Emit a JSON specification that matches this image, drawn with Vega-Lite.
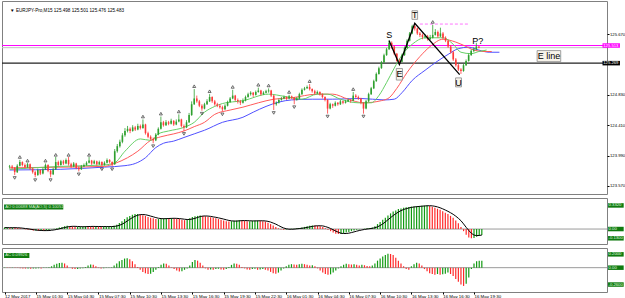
{
"$schema":"https://vega.github.io/schema/vega-lite/v6.json",
"background":"white",
"padding":{"left":0,"top":0,"right":0,"bottom":0},
"spacing":2,
"config":{"view":{"stroke":"#808080","strokeWidth":1},"font":"Liberation Sans","axis":{"labelFont":"Liberation Sans"}},
"datasets":{
"bars":[
{"i":0,"o":123.83,"h":123.86,"l":123.81,"c":123.84,"ao":0.020,"ma":0.020,"ac":0.004},
{"i":1,"o":123.84,"h":123.86,"l":123.80,"c":123.82,"ao":0.020,"ma":0.020,"ac":0.002},
{"i":2,"o":123.82,"h":123.83,"l":123.72,"c":123.76,"ao":0.015,"ma":0.019,"ac":-0.004},
{"i":3,"o":123.76,"h":123.87,"l":123.75,"c":123.85,"ao":0.020,"ma":0.019,"ac":0.003},
{"i":4,"o":123.85,"h":123.93,"l":123.84,"c":123.90,"ao":0.018,"ma":0.019,"ac":-0.003},
{"i":5,"o":123.90,"h":123.91,"l":123.84,"c":123.86,"ao":0.015,"ma":0.018,"ac":-0.006},
{"i":6,"o":123.86,"h":123.88,"l":123.81,"c":123.83,"ao":0.010,"ma":0.016,"ac":-0.008},
{"i":7,"o":123.83,"h":123.89,"l":123.82,"c":123.87,"ao":0.005,"ma":0.012,"ac":-0.010},
{"i":8,"o":123.87,"h":123.88,"l":123.79,"c":123.81,"ao":-0.005,"ma":0.007,"ac":-0.012},
{"i":9,"o":123.81,"h":123.82,"l":123.74,"c":123.76,"ao":-0.010,"ma":0.003,"ac":-0.010},
{"i":10,"o":123.76,"h":123.78,"l":123.69,"c":123.72,"ao":-0.015,"ma":-0.003,"ac":-0.014},
{"i":11,"o":123.72,"h":123.81,"l":123.71,"c":123.79,"ao":-0.020,"ma":-0.009,"ac":-0.012},
{"i":12,"o":123.79,"h":123.80,"l":123.72,"c":123.74,"ao":-0.020,"ma":-0.014,"ac":-0.010},
{"i":13,"o":123.74,"h":123.82,"l":123.73,"c":123.80,"ao":-0.025,"ma":-0.018,"ac":-0.008},
{"i":14,"o":123.80,"h":123.88,"l":123.79,"c":123.86,"ao":-0.020,"ma":-0.020,"ac":-0.010},
{"i":15,"o":123.86,"h":123.87,"l":123.76,"c":123.78,"ao":-0.025,"ma":-0.022,"ac":-0.006},
{"i":16,"o":123.78,"h":123.79,"l":123.69,"c":123.73,"ao":-0.020,"ma":-0.022,"ac":-0.004},
{"i":17,"o":123.73,"h":123.82,"l":123.72,"c":123.80,"ao":-0.015,"ma":-0.021,"ac":0.005},
{"i":18,"o":123.80,"h":123.97,"l":123.79,"c":123.90,"ao":-0.005,"ma":-0.017,"ac":0.020},
{"i":19,"o":123.90,"h":123.92,"l":123.84,"c":123.86,"ao":0.005,"ma":-0.012,"ac":0.040},
{"i":20,"o":123.86,"h":123.93,"l":123.85,"c":123.91,"ao":0.012,"ma":-0.006,"ac":0.055},
{"i":21,"o":123.91,"h":123.93,"l":123.86,"c":123.88,"ao":0.020,"ma":0.003,"ac":0.065},
{"i":22,"o":123.88,"h":123.95,"l":123.87,"c":123.93,"ao":0.030,"ma":0.012,"ac":0.070},
{"i":23,"o":123.93,"h":123.97,"l":123.85,"c":123.87,"ao":0.040,"ma":0.021,"ac":0.060},
{"i":24,"o":123.87,"h":123.89,"l":123.82,"c":123.84,"ao":0.045,"ma":0.029,"ac":0.030},
{"i":25,"o":123.84,"h":123.90,"l":123.83,"c":123.88,"ao":0.040,"ma":0.035,"ac":0.000},
{"i":26,"o":123.88,"h":123.89,"l":123.80,"c":123.82,"ao":0.035,"ma":0.038,"ac":-0.015},
{"i":27,"o":123.82,"h":123.84,"l":123.77,"c":123.80,"ao":0.030,"ma":0.038,"ac":-0.020},
{"i":28,"o":123.80,"h":123.86,"l":123.79,"c":123.84,"ao":0.030,"ma":0.036,"ac":-0.018},
{"i":29,"o":123.84,"h":123.88,"l":123.83,"c":123.86,"ao":0.032,"ma":0.034,"ac":-0.012},
{"i":30,"o":123.86,"h":123.91,"l":123.85,"c":123.89,"ao":0.035,"ma":0.032,"ac":-0.008},
{"i":31,"o":123.89,"h":123.97,"l":123.88,"c":123.92,"ao":0.040,"ma":0.033,"ac":0.010},
{"i":32,"o":123.92,"h":123.93,"l":123.86,"c":123.88,"ao":0.038,"ma":0.035,"ac":0.030},
{"i":33,"o":123.88,"h":123.93,"l":123.87,"c":123.91,"ao":0.036,"ma":0.036,"ac":0.045},
{"i":34,"o":123.91,"h":123.92,"l":123.85,"c":123.87,"ao":0.035,"ma":0.037,"ac":0.040},
{"i":35,"o":123.87,"h":123.92,"l":123.86,"c":123.90,"ao":0.036,"ma":0.036,"ac":0.020},
{"i":36,"o":123.90,"h":123.91,"l":123.84,"c":123.86,"ao":0.035,"ma":0.036,"ac":-0.005},
{"i":37,"o":123.86,"h":123.91,"l":123.85,"c":123.89,"ao":0.033,"ma":0.035,"ac":-0.010},
{"i":38,"o":123.89,"h":123.95,"l":123.88,"c":123.93,"ao":0.034,"ma":0.035,"ac":-0.008},
{"i":39,"o":123.93,"h":123.94,"l":123.88,"c":123.90,"ao":0.035,"ma":0.035,"ac":-0.005},
{"i":40,"o":123.90,"h":123.91,"l":123.84,"c":123.87,"ao":0.035,"ma":0.034,"ac":-0.005},
{"i":41,"o":123.87,"h":124.08,"l":123.86,"c":124.05,"ao":0.036,"ma":0.035,"ac":0.005},
{"i":42,"o":124.05,"h":124.15,"l":124.03,"c":124.12,"ao":0.045,"ma":0.037,"ac":0.030},
{"i":43,"o":124.12,"h":124.21,"l":124.10,"c":124.18,"ao":0.060,"ma":0.042,"ac":0.060},
{"i":44,"o":124.18,"h":124.30,"l":124.16,"c":124.27,"ao":0.085,"ma":0.052,"ac":0.090},
{"i":45,"o":124.27,"h":124.37,"l":124.25,"c":124.33,"ao":0.110,"ma":0.067,"ac":0.110},
{"i":46,"o":124.33,"h":124.40,"l":124.31,"c":124.36,"ao":0.140,"ma":0.088,"ac":0.130},
{"i":47,"o":124.36,"h":124.38,"l":124.30,"c":124.33,"ao":0.165,"ma":0.112,"ac":0.135},
{"i":48,"o":124.33,"h":124.41,"l":124.32,"c":124.38,"ao":0.185,"ma":0.137,"ac":0.120},
{"i":49,"o":124.38,"h":124.40,"l":124.33,"c":124.35,"ao":0.200,"ma":0.160,"ac":0.090},
{"i":50,"o":124.35,"h":124.43,"l":124.34,"c":124.40,"ao":0.210,"ma":0.180,"ac":0.050},
{"i":51,"o":124.40,"h":124.42,"l":124.35,"c":124.37,"ao":0.212,"ma":0.194,"ac":0.010},
{"i":52,"o":124.37,"h":124.49,"l":124.36,"c":124.42,"ao":0.205,"ma":0.202,"ac":-0.030},
{"i":53,"o":124.42,"h":124.43,"l":124.28,"c":124.30,"ao":0.195,"ma":0.204,"ac":-0.060},
{"i":54,"o":124.30,"h":124.32,"l":124.23,"c":124.25,"ao":0.185,"ma":0.201,"ac":-0.080},
{"i":55,"o":124.25,"h":124.27,"l":124.20,"c":124.22,"ao":0.170,"ma":0.193,"ac":-0.090},
{"i":56,"o":124.22,"h":124.24,"l":124.16,"c":124.20,"ao":0.160,"ma":0.182,"ac":-0.085},
{"i":57,"o":124.20,"h":124.30,"l":124.19,"c":124.28,"ao":0.150,"ma":0.172,"ac":-0.060},
{"i":58,"o":124.28,"h":124.38,"l":124.27,"c":124.36,"ao":0.140,"ma":0.161,"ac":-0.030},
{"i":59,"o":124.36,"h":124.53,"l":124.35,"c":124.45,"ao":0.140,"ma":0.152,"ac":0.010},
{"i":60,"o":124.45,"h":124.47,"l":124.39,"c":124.41,"ao":0.145,"ma":0.147,"ac":0.040},
{"i":61,"o":124.41,"h":124.48,"l":124.40,"c":124.45,"ao":0.150,"ma":0.145,"ac":0.060},
{"i":62,"o":124.45,"h":124.47,"l":124.41,"c":124.43,"ao":0.155,"ma":0.146,"ac":0.055},
{"i":63,"o":124.43,"h":124.50,"l":124.42,"c":124.47,"ao":0.150,"ma":0.148,"ac":0.030},
{"i":64,"o":124.47,"h":124.48,"l":124.40,"c":124.42,"ao":0.152,"ma":0.150,"ac":0.005},
{"i":65,"o":124.42,"h":124.49,"l":124.41,"c":124.46,"ao":0.148,"ma":0.151,"ac":-0.020},
{"i":66,"o":124.46,"h":124.56,"l":124.45,"c":124.49,"ao":0.145,"ma":0.150,"ac":-0.040},
{"i":67,"o":124.49,"h":124.50,"l":124.38,"c":124.40,"ao":0.140,"ma":0.147,"ac":-0.055},
{"i":68,"o":124.40,"h":124.42,"l":124.33,"c":124.38,"ao":0.130,"ma":0.143,"ac":-0.050},
{"i":69,"o":124.38,"h":124.48,"l":124.37,"c":124.45,"ao":0.125,"ma":0.138,"ac":-0.030},
{"i":70,"o":124.45,"h":124.58,"l":124.44,"c":124.55,"ao":0.130,"ma":0.134,"ac":-0.010},
{"i":71,"o":124.55,"h":124.74,"l":124.54,"c":124.70,"ao":0.150,"ma":0.135,"ac":0.030},
{"i":72,"o":124.70,"h":124.91,"l":124.69,"c":124.78,"ao":0.170,"ma":0.141,"ac":0.080},
{"i":73,"o":124.78,"h":124.82,"l":124.72,"c":124.74,"ao":0.180,"ma":0.151,"ac":0.110},
{"i":74,"o":124.74,"h":124.76,"l":124.66,"c":124.68,"ao":0.185,"ma":0.163,"ac":0.100},
{"i":75,"o":124.68,"h":124.70,"l":124.61,"c":124.64,"ao":0.190,"ma":0.175,"ac":0.070},
{"i":76,"o":124.64,"h":124.72,"l":124.63,"c":124.70,"ao":0.185,"ma":0.182,"ac":0.030},
{"i":77,"o":124.70,"h":124.77,"l":124.69,"c":124.74,"ao":0.180,"ma":0.184,"ac":-0.010},
{"i":78,"o":124.74,"h":124.84,"l":124.73,"c":124.80,"ao":0.170,"ma":0.182,"ac":-0.030},
{"i":79,"o":124.80,"h":124.81,"l":124.72,"c":124.74,"ao":0.165,"ma":0.178,"ac":-0.025},
{"i":80,"o":124.74,"h":124.76,"l":124.68,"c":124.70,"ao":0.160,"ma":0.171,"ac":-0.030},
{"i":81,"o":124.70,"h":124.72,"l":124.66,"c":124.68,"ao":0.150,"ma":0.165,"ac":-0.020},
{"i":82,"o":124.68,"h":124.70,"l":124.64,"c":124.66,"ao":0.140,"ma":0.157,"ac":-0.015},
{"i":83,"o":124.66,"h":124.68,"l":124.60,"c":124.63,"ao":0.130,"ma":0.149,"ac":-0.025},
{"i":84,"o":124.63,"h":124.70,"l":124.62,"c":124.68,"ao":0.120,"ma":0.140,"ac":-0.030},
{"i":85,"o":124.68,"h":124.75,"l":124.67,"c":124.73,"ao":0.110,"ma":0.130,"ac":-0.020},
{"i":86,"o":124.73,"h":124.80,"l":124.72,"c":124.78,"ao":0.105,"ma":0.121,"ac":0.010},
{"i":87,"o":124.78,"h":124.90,"l":124.77,"c":124.82,"ao":0.110,"ma":0.115,"ac":0.040},
{"i":88,"o":124.82,"h":124.83,"l":124.74,"c":124.76,"ao":0.115,"ma":0.112,"ac":0.060},
{"i":89,"o":124.76,"h":124.78,"l":124.71,"c":124.74,"ao":0.120,"ma":0.112,"ac":0.055},
{"i":90,"o":124.74,"h":124.76,"l":124.69,"c":124.72,"ao":0.125,"ma":0.115,"ac":0.040},
{"i":91,"o":124.72,"h":124.78,"l":124.71,"c":124.75,"ao":0.120,"ma":0.118,"ac":0.010},
{"i":92,"o":124.75,"h":124.82,"l":124.74,"c":124.80,"ao":0.115,"ma":0.119,"ac":-0.010},
{"i":93,"o":124.80,"h":124.86,"l":124.79,"c":124.84,"ao":0.110,"ma":0.118,"ac":-0.025},
{"i":94,"o":124.84,"h":124.88,"l":124.82,"c":124.86,"ao":0.110,"ma":0.116,"ac":-0.030},
{"i":95,"o":124.86,"h":124.87,"l":124.80,"c":124.83,"ao":0.115,"ma":0.114,"ac":-0.020},
{"i":96,"o":124.83,"h":124.89,"l":124.82,"c":124.87,"ao":0.120,"ma":0.114,"ac":-0.015},
{"i":97,"o":124.87,"h":124.93,"l":124.86,"c":124.89,"ao":0.120,"ma":0.115,"ac":-0.030},
{"i":98,"o":124.89,"h":124.90,"l":124.82,"c":124.84,"ao":0.115,"ma":0.116,"ac":-0.025},
{"i":99,"o":124.84,"h":124.88,"l":124.83,"c":124.86,"ao":0.110,"ma":0.116,"ac":-0.020},
{"i":100,"o":124.86,"h":124.90,"l":124.85,"c":124.88,"ao":0.105,"ma":0.114,"ac":-0.030},
{"i":101,"o":124.88,"h":124.92,"l":124.86,"c":124.89,"ao":0.090,"ma":0.108,"ac":-0.040},
{"i":102,"o":124.89,"h":124.90,"l":124.80,"c":124.82,"ao":0.070,"ma":0.098,"ac":-0.060},
{"i":103,"o":124.82,"h":124.83,"l":124.62,"c":124.70,"ao":0.050,"ma":0.084,"ac":-0.080},
{"i":104,"o":124.70,"h":124.74,"l":124.68,"c":124.72,"ao":0.030,"ma":0.069,"ac":-0.085},
{"i":105,"o":124.72,"h":124.78,"l":124.71,"c":124.76,"ao":0.010,"ma":0.050,"ac":-0.070},
{"i":106,"o":124.76,"h":124.80,"l":124.75,"c":124.78,"ao":-0.005,"ma":0.031,"ac":-0.040},
{"i":107,"o":124.78,"h":124.82,"l":124.77,"c":124.80,"ao":-0.010,"ma":0.015,"ac":-0.010},
{"i":108,"o":124.80,"h":124.81,"l":124.76,"c":124.78,"ao":-0.005,"ma":0.004,"ac":0.020},
{"i":109,"o":124.78,"h":124.83,"l":124.77,"c":124.81,"ao":0.000,"ma":-0.002,"ac":0.040},
{"i":110,"o":124.81,"h":124.82,"l":124.77,"c":124.79,"ao":0.005,"ma":-0.003,"ac":0.050},
{"i":111,"o":124.79,"h":124.80,"l":124.70,"c":124.76,"ao":0.005,"ma":-0.001,"ac":0.045},
{"i":112,"o":124.76,"h":124.80,"l":124.75,"c":124.78,"ao":0.010,"ma":0.003,"ac":0.040},
{"i":113,"o":124.78,"h":124.86,"l":124.77,"c":124.84,"ao":0.015,"ma":0.007,"ac":0.050},
{"i":114,"o":124.84,"h":124.92,"l":124.83,"c":124.90,"ao":0.020,"ma":0.011,"ac":0.055},
{"i":115,"o":124.90,"h":124.94,"l":124.89,"c":124.92,"ao":0.030,"ma":0.016,"ac":0.050},
{"i":116,"o":124.92,"h":124.96,"l":124.91,"c":124.94,"ao":0.040,"ma":0.023,"ac":0.040},
{"i":117,"o":124.94,"h":124.98,"l":124.89,"c":124.91,"ao":0.045,"ma":0.030,"ac":0.030},
{"i":118,"o":124.91,"h":124.92,"l":124.86,"c":124.88,"ao":0.050,"ma":0.037,"ac":0.035},
{"i":119,"o":124.88,"h":124.90,"l":124.83,"c":124.85,"ao":0.048,"ma":0.043,"ac":0.020},
{"i":120,"o":124.85,"h":124.89,"l":124.84,"c":124.87,"ao":0.045,"ma":0.046,"ac":-0.010},
{"i":121,"o":124.87,"h":124.88,"l":124.82,"c":124.84,"ao":0.040,"ma":0.046,"ac":-0.040},
{"i":122,"o":124.84,"h":124.85,"l":124.78,"c":124.80,"ao":0.030,"ma":0.044,"ac":-0.070},
{"i":123,"o":124.80,"h":124.81,"l":124.74,"c":124.76,"ao":0.010,"ma":0.035,"ac":-0.090},
{"i":124,"o":124.76,"h":124.77,"l":124.57,"c":124.64,"ao":-0.010,"ma":0.023,"ac":-0.100},
{"i":125,"o":124.64,"h":124.72,"l":124.63,"c":124.70,"ao":-0.030,"ma":0.008,"ac":-0.095},
{"i":126,"o":124.70,"h":124.71,"l":124.65,"c":124.68,"ao":-0.050,"ma":-0.010,"ac":-0.070},
{"i":127,"o":124.68,"h":124.74,"l":124.67,"c":124.72,"ao":-0.065,"ma":-0.029,"ac":-0.040},
{"i":128,"o":124.72,"h":124.73,"l":124.68,"c":124.70,"ao":-0.070,"ma":-0.045,"ac":-0.010},
{"i":129,"o":124.70,"h":124.76,"l":124.69,"c":124.74,"ao":-0.068,"ma":-0.059,"ac":0.020},
{"i":130,"o":124.74,"h":124.75,"l":124.70,"c":124.72,"ao":-0.060,"ma":-0.063,"ac":0.040},
{"i":131,"o":124.72,"h":124.76,"l":124.71,"c":124.74,"ao":-0.050,"ma":-0.063,"ac":0.055},
{"i":132,"o":124.74,"h":124.78,"l":124.73,"c":124.76,"ao":-0.040,"ma":-0.058,"ac":0.050},
{"i":133,"o":124.76,"h":124.77,"l":124.72,"c":124.75,"ao":-0.030,"ma":-0.050,"ac":0.045},
{"i":134,"o":124.75,"h":124.87,"l":124.74,"c":124.82,"ao":-0.020,"ma":-0.040,"ac":0.050},
{"i":135,"o":124.82,"h":124.84,"l":124.78,"c":124.80,"ao":-0.010,"ma":-0.030,"ac":0.040},
{"i":136,"o":124.80,"h":124.82,"l":124.76,"c":124.78,"ao":-0.005,"ma":-0.021,"ac":0.030},
{"i":137,"o":124.78,"h":124.79,"l":124.70,"c":124.72,"ao":0.000,"ma":-0.013,"ac":0.040},
{"i":138,"o":124.72,"h":124.73,"l":124.57,"c":124.64,"ao":0.005,"ma":-0.006,"ac":0.035},
{"i":139,"o":124.64,"h":124.76,"l":124.63,"c":124.74,"ao":0.010,"ma":0.000,"ac":0.025},
{"i":140,"o":124.74,"h":124.86,"l":124.73,"c":124.84,"ao":0.015,"ma":0.005,"ac":0.020},
{"i":141,"o":124.84,"h":124.94,"l":124.83,"c":124.92,"ao":0.020,"ma":0.010,"ac":0.030},
{"i":142,"o":124.92,"h":125.04,"l":124.91,"c":125.02,"ao":0.040,"ma":0.018,"ac":0.060},
{"i":143,"o":125.02,"h":125.14,"l":125.01,"c":125.12,"ao":0.070,"ma":0.031,"ac":0.100},
{"i":144,"o":125.12,"h":125.22,"l":125.11,"c":125.20,"ao":0.100,"ma":0.049,"ac":0.130},
{"i":145,"o":125.20,"h":125.30,"l":125.19,"c":125.28,"ao":0.130,"ma":0.072,"ac":0.160},
{"i":146,"o":125.28,"h":125.40,"l":125.27,"c":125.38,"ao":0.160,"ma":0.100,"ac":0.180},
{"i":147,"o":125.38,"h":125.48,"l":125.37,"c":125.46,"ao":0.190,"ma":0.130,"ac":0.200},
{"i":148,"o":125.46,"h":125.59,"l":125.45,"c":125.55,"ao":0.220,"ma":0.160,"ac":0.195},
{"i":149,"o":125.55,"h":125.57,"l":125.47,"c":125.50,"ao":0.245,"ma":0.189,"ac":0.180},
{"i":150,"o":125.50,"h":125.51,"l":125.38,"c":125.40,"ao":0.260,"ma":0.215,"ac":0.140},
{"i":151,"o":125.40,"h":125.41,"l":125.29,"c":125.30,"ao":0.280,"ma":0.239,"ac":0.100},
{"i":152,"o":125.30,"h":125.33,"l":125.25,"c":125.29,"ao":0.290,"ma":0.259,"ac":0.060},
{"i":153,"o":125.29,"h":125.40,"l":125.28,"c":125.38,"ao":0.300,"ma":0.275,"ac":0.020},
{"i":154,"o":125.38,"h":125.50,"l":125.37,"c":125.48,"ao":0.305,"ma":0.286,"ac":-0.020},
{"i":155,"o":125.48,"h":125.60,"l":125.47,"c":125.58,"ao":0.310,"ma":0.296,"ac":-0.030},
{"i":156,"o":125.58,"h":125.70,"l":125.57,"c":125.68,"ao":0.315,"ma":0.304,"ac":0.020},
{"i":157,"o":125.68,"h":125.80,"l":125.67,"c":125.78,"ao":0.318,"ma":0.310,"ac":0.050},
{"i":158,"o":125.78,"h":125.82,"l":125.72,"c":125.75,"ao":0.320,"ma":0.314,"ac":0.070},
{"i":159,"o":125.75,"h":125.76,"l":125.66,"c":125.68,"ao":0.325,"ma":0.318,"ac":0.060},
{"i":160,"o":125.68,"h":125.70,"l":125.63,"c":125.66,"ao":0.328,"ma":0.321,"ac":0.030},
{"i":161,"o":125.66,"h":125.68,"l":125.60,"c":125.63,"ao":0.330,"ma":0.324,"ac":-0.020},
{"i":162,"o":125.63,"h":125.67,"l":125.61,"c":125.64,"ao":0.332,"ma":0.327,"ac":-0.050},
{"i":163,"o":125.64,"h":125.66,"l":125.58,"c":125.60,"ao":0.325,"ma":0.328,"ac":-0.080},
{"i":164,"o":125.60,"h":125.66,"l":125.59,"c":125.62,"ao":0.315,"ma":0.326,"ac":-0.090},
{"i":165,"o":125.62,"h":125.80,"l":125.61,"c":125.66,"ao":0.300,"ma":0.320,"ac":-0.100},
{"i":166,"o":125.66,"h":125.74,"l":125.65,"c":125.70,"ao":0.285,"ma":0.311,"ac":-0.090},
{"i":167,"o":125.70,"h":125.72,"l":125.62,"c":125.64,"ao":0.270,"ma":0.299,"ac":-0.100},
{"i":168,"o":125.64,"h":125.76,"l":125.63,"c":125.68,"ao":0.250,"ma":0.284,"ac":-0.095},
{"i":169,"o":125.68,"h":125.70,"l":125.60,"c":125.62,"ao":0.230,"ma":0.267,"ac":-0.085},
{"i":170,"o":125.62,"h":125.64,"l":125.56,"c":125.58,"ao":0.210,"ma":0.249,"ac":-0.070},
{"i":171,"o":125.58,"h":125.59,"l":125.48,"c":125.50,"ao":0.185,"ma":0.229,"ac":-0.090},
{"i":172,"o":125.50,"h":125.52,"l":125.40,"c":125.42,"ao":0.160,"ma":0.207,"ac":-0.120},
{"i":173,"o":125.42,"h":125.44,"l":125.30,"c":125.32,"ao":0.120,"ma":0.181,"ac":-0.160},
{"i":174,"o":125.32,"h":125.34,"l":125.22,"c":125.24,"ao":0.080,"ma":0.151,"ac":-0.200},
{"i":175,"o":125.24,"h":125.26,"l":125.16,"c":125.18,"ao":0.030,"ma":0.117,"ac":-0.240},
{"i":176,"o":125.18,"h":125.20,"l":125.12,"c":125.16,"ao":-0.030,"ma":0.072,"ac":-0.260},
{"i":177,"o":125.16,"h":125.26,"l":125.15,"c":125.24,"ao":-0.080,"ma":0.024,"ac":-0.230},
{"i":178,"o":125.24,"h":125.32,"l":125.23,"c":125.30,"ao":-0.120,"ma":-0.020,"ac":-0.140},
{"i":179,"o":125.30,"h":125.40,"l":125.29,"c":125.38,"ao":-0.130,"ma":-0.060,"ac":-0.020},
{"i":180,"o":125.38,"h":125.46,"l":125.37,"c":125.44,"ao":-0.125,"ma":-0.085,"ac":0.060},
{"i":181,"o":125.44,"h":125.49,"l":125.42,"c":125.46,"ao":-0.110,"ma":-0.092,"ac":0.090},
{"i":182,"o":125.46,"h":125.55,"l":125.45,"c":125.498,"ao":-0.095,"ma":-0.090,"ac":0.100},
{"i":183,"o":125.498,"h":125.501,"l":125.476,"c":125.483,"ao":-0.085,"ma":-0.085,"ac":0.100}
],
"gator":[
{"s":"jaw","i":0,"v":123.79},{"s":"jaw","i":20,"v":123.80},{"s":"jaw","i":37,"v":123.83},{"s":"jaw","i":45,"v":123.85},{"s":"jaw","i":49,"v":123.88},{"s":"jaw","i":53,"v":123.96},{"s":"jaw","i":57,"v":124.10},{"s":"jaw","i":60,"v":124.16},{"s":"jaw","i":64,"v":124.19},{"s":"jaw","i":68,"v":124.24},{"s":"jaw","i":72,"v":124.29},{"s":"jaw","i":76,"v":124.34},{"s":"jaw","i":83,"v":124.45},{"s":"jaw","i":91,"v":124.52},{"s":"jaw","i":95,"v":124.59},{"s":"jaw","i":100,"v":124.67},{"s":"jaw","i":105,"v":124.73},{"s":"jaw","i":110,"v":124.76},{"s":"jaw","i":118,"v":124.77},{"s":"jaw","i":126,"v":124.77},{"s":"jaw","i":137,"v":124.78},{"s":"jaw","i":146,"v":124.76},{"s":"jaw","i":150,"v":124.77},{"s":"jaw","i":153,"v":124.86},{"s":"jaw","i":157,"v":125.03},{"s":"jaw","i":162,"v":125.17},{"s":"jaw","i":167,"v":125.30},{"s":"jaw","i":171,"v":125.39},{"s":"jaw","i":175,"v":125.47},{"s":"jaw","i":179,"v":125.49},{"s":"jaw","i":183,"v":125.45},{"s":"jaw","i":187,"v":125.42},{"s":"jaw","i":191,"v":125.42},
{"s":"teeth","i":0,"v":123.82},{"s":"teeth","i":22,"v":123.83},{"s":"teeth","i":37,"v":123.84},{"s":"teeth","i":41,"v":123.88},{"s":"teeth","i":46,"v":123.96},{"s":"teeth","i":50,"v":124.05},{"s":"teeth","i":55,"v":124.20},{"s":"teeth","i":59,"v":124.25},{"s":"teeth","i":64,"v":124.29},{"s":"teeth","i":68,"v":124.33},{"s":"teeth","i":72,"v":124.39},{"s":"teeth","i":76,"v":124.45},{"s":"teeth","i":80,"v":124.56},{"s":"teeth","i":86,"v":124.62},{"s":"teeth","i":91,"v":124.66},{"s":"teeth","i":97,"v":124.72},{"s":"teeth","i":103,"v":124.77},{"s":"teeth","i":110,"v":124.79},{"s":"teeth","i":120,"v":124.84},{"s":"teeth","i":126,"v":124.84},{"s":"teeth","i":132,"v":124.77},{"s":"teeth","i":138,"v":124.72},{"s":"teeth","i":145,"v":124.75},{"s":"teeth","i":148,"v":124.79},{"s":"teeth","i":151,"v":124.92},{"s":"teeth","i":155,"v":125.14},{"s":"teeth","i":160,"v":125.36},{"s":"teeth","i":164,"v":125.50},{"s":"teeth","i":169,"v":125.60},{"s":"teeth","i":174,"v":125.56},{"s":"teeth","i":178,"v":125.50},{"s":"teeth","i":181,"v":125.45},{"s":"teeth","i":185,"v":125.43},{"s":"teeth","i":188,"v":125.43},
{"s":"lips","i":0,"v":123.80},{"s":"lips","i":20,"v":123.84},{"s":"lips","i":37,"v":123.86},{"s":"lips","i":41,"v":123.89},{"s":"lips","i":45,"v":124.05},{"s":"lips","i":51,"v":124.22},{"s":"lips","i":55,"v":124.20},{"s":"lips","i":58,"v":124.29},{"s":"lips","i":62,"v":124.33},{"s":"lips","i":68,"v":124.38},{"s":"lips","i":72,"v":124.45},{"s":"lips","i":76,"v":124.59},{"s":"lips","i":80,"v":124.67},{"s":"lips","i":83,"v":124.71},{"s":"lips","i":91,"v":124.75},{"s":"lips","i":101,"v":124.84},{"s":"lips","i":107,"v":124.81},{"s":"lips","i":114,"v":124.77},{"s":"lips","i":120,"v":124.84},{"s":"lips","i":124,"v":124.84},{"s":"lips","i":129,"v":124.77},{"s":"lips","i":136,"v":124.72},{"s":"lips","i":141,"v":124.72},{"s":"lips","i":144,"v":124.82},{"s":"lips","i":147,"v":125.00},{"s":"lips","i":150,"v":125.20},{"s":"lips","i":153,"v":125.38},{"s":"lips","i":157,"v":125.53},{"s":"lips","i":162,"v":125.62},{"s":"lips","i":169,"v":125.62},{"s":"lips","i":173,"v":125.53},{"s":"lips","i":176,"v":125.42},{"s":"lips","i":180,"v":125.40},{"s":"lips","i":183,"v":125.43},{"s":"lips","i":186,"v":125.45}
],
"fr":[
{"i":4,"p":123.97,"d":"u"},{"i":7,"p":123.92,"d":"u"},{"i":14,"p":123.92,"d":"u"},{"i":18,"p":124.0,"d":"u"},{"i":23,"p":124.0,"d":"u"},{"i":31,"p":124.0,"d":"u"},{"i":52,"p":124.53,"d":"u"},{"i":59,"p":124.57,"d":"u"},{"i":66,"p":124.6,"d":"u"},{"i":72,"p":124.95,"d":"u"},{"i":78,"p":124.88,"d":"u"},{"i":87,"p":124.94,"d":"u"},{"i":97,"p":124.97,"d":"u"},{"i":101,"p":124.96,"d":"u"},{"i":109,"p":124.87,"d":"u"},{"i":117,"p":125.02,"d":"u"},{"i":134,"p":124.91,"d":"u"},{"i":165,"p":125.84,"d":"u"},
{"i":2,"p":123.68,"d":"d"},{"i":10,"p":123.65,"d":"d"},{"i":16,"p":123.65,"d":"d"},{"i":27,"p":123.73,"d":"d"},{"i":36,"p":123.80,"d":"d"},{"i":40,"p":123.80,"d":"d"},{"i":56,"p":124.12,"d":"d"},{"i":68,"p":124.29,"d":"d"},{"i":75,"p":124.57,"d":"d"},{"i":83,"p":124.56,"d":"d"},{"i":103,"p":124.58,"d":"d"},{"i":111,"p":124.66,"d":"d"},{"i":124,"p":124.53,"d":"d"},{"i":138,"p":124.53,"d":"d"}
],
"zz":[{"k":1,"i":148,"p":125.58},{"k":2,"i":152,"p":125.25},{"k":3,"i":158,"p":125.82},{"k":4,"i":175.5,"p":125.11}],
"boxes":[{"x1":150.8,"x2":153.2,"y1":125.195,"y2":125.035},{"x1":156.9,"x2":159.1,"y1":125.995,"y2":125.875},{"x1":173.9,"x2":176.2,"y1":125.065,"y2":124.94},{"x1":205.7,"x2":214.9,"y1":125.443,"y2":125.29}],
"notes":[{"i":148,"p":125.655,"t":"S"},{"i":152,"p":125.115,"t":"E"},{"i":158,"p":125.935,"t":"T"},{"i":175.05,"p":125.0,"t":"U"},{"i":182.6,"p":125.58,"t":"P?"},{"i":210.3,"p":125.364,"t":"E line"}],
"aolab":[{"v":0.332,"t":"0.3320"},{"v":0.0,"t":"0.00"},{"v":-0.13,"t":"-0.1300"}],
"aclab":[{"v":0.19,"t":"0.2000"},{"v":0.0,"t":"0.00"},{"v":-0.24,"t":"-0.2600"}]
},
"vconcat":[
{
"width":605,"height":193,
"layer":[
{"data":{"values":[{}]},"mark":{"type":"rule","color":"#ff00ff","strokeWidth":1},"encoding":{"y":{"datum":125.513,"type":"quantitative","scale":{"domain":[123.527,126.06],"nice":false,"zero":false},"axis":{"orient":"right","values":[123.57,123.78,123.99,124.2,124.41,124.62,124.83,125.04,125.67,125.88],"format":".3f","title":null,"grid":false,"domain":false,"tickSize":2,"tickColor":"#000","labelFontSize":4.2,"labelColor":"#000","labelPadding":0.5,"labelOverlap":false,"minExtent":0,"maxExtent":18}}}},
{"data":{"values":[{}]},"mark":{"type":"rule","color":"#c0c0c0","strokeWidth":1},"encoding":{"y":{"datum":125.483,"type":"quantitative","title":null}}},
{"data":{"values":[{}]},"mark":{"type":"rule","color":"#222222","strokeWidth":1.2},"encoding":{"y":{"datum":125.269,"type":"quantitative","title":null}}},
{"data":{"values":[{}]},"mark":{"type":"rule","color":"#ff77ff","strokeWidth":1,"strokeDash":[3,2]},"encoding":{"x":{"datum":160,"type":"quantitative","scale":{"domain":[-1,231],"nice":false,"zero":false},"axis":null},"x2":{"datum":179},"y":{"datum":125.81,"type":"quantitative","title":null}}},
{"data":{"name":"gator"},"mark":{"type":"line","strokeWidth":1,"interpolate":"monotone"},"encoding":{"x":{"field":"i","type":"quantitative","axis":null},"y":{"field":"v","type":"quantitative","title":null},"color":{"field":"s","type":"nominal","scale":{"domain":["jaw","teeth","lips"],"range":["#5050ff","#ff5a5a","#66d066"]},"legend":null}}},
{"data":{"name":"bars"},"mark":{"type":"rule","strokeWidth":0.8},"encoding":{"x":{"field":"i","type":"quantitative","axis":null},"y":{"field":"l","type":"quantitative","title":null},"y2":{"field":"h"},"color":{"condition":{"test":"datum.c >= datum.o","value":"#2ea02e"},"value":"#ff3a3a"}}},
{"data":{"name":"bars"},"mark":{"type":"bar","size":1.6},"encoding":{"x":{"field":"i","type":"quantitative","axis":null},"y":{"field":"o","type":"quantitative","title":null},"y2":{"field":"c"},"color":{"condition":{"test":"datum.c >= datum.o","value":"#2ea02e"},"value":"#ff3a3a"}}},
{"data":{"name":"fr"},"mark":{"type":"point","filled":false,"stroke":"#000","strokeWidth":0.8,"size":9},"encoding":{"x":{"field":"i","type":"quantitative","axis":null},"y":{"field":"p","type":"quantitative","title":null},"shape":{"field":"d","type":"nominal","scale":{"domain":["u","d"],"range":["triangle-up","triangle-down"]},"legend":null}}},
{"data":{"name":"zz"},"mark":{"type":"line","color":"#000","strokeWidth":1.3},"encoding":{"x":{"field":"i","type":"quantitative","axis":null},"y":{"field":"p","type":"quantitative","title":null},"order":{"field":"k"}}},
{"data":{"name":"boxes"},"mark":{"type":"rect","fill":"#f7f3ea","stroke":"#8a8a8a","strokeWidth":0.8},"encoding":{"x":{"field":"x1","type":"quantitative","axis":null},"x2":{"field":"x2"},"y":{"field":"y1","type":"quantitative","title":null},"y2":{"field":"y2"}}},
{"data":{"name":"notes"},"mark":{"type":"text","fontSize":9,"color":"#000","font":"Liberation Sans"},"encoding":{"x":{"field":"i","type":"quantitative","axis":null},"y":{"field":"p","type":"quantitative","title":null},"text":{"field":"t"}}},
{"data":{"values":[{"t":"▼ EURJPY-Pro,M15  125.498 125.501 125.476 125.483"}]},"mark":{"type":"text","fontSize":4.6,"align":"left","color":"#000"},"encoding":{"x":{"datum":0.2,"type":"quantitative","axis":null},"y":{"datum":125.99,"type":"quantitative","title":null},"text":{"field":"t"}}},
{"data":{"values":[{"p":125.513}]},"mark":{"type":"bar","orient":"horizontal","size":4.5,"color":"#ff00ff"},"encoding":{"x":{"datum":231.2,"type":"quantitative","axis":null},"x2":{"datum":238.0},"y":{"field":"p","type":"quantitative","title":null}}},
{"data":{"values":[{"p":125.269}]},"mark":{"type":"bar","orient":"horizontal","size":4.5,"color":"#000000"},"encoding":{"x":{"datum":231.2,"type":"quantitative","axis":null},"x2":{"datum":238.0},"y":{"field":"p","type":"quantitative","title":null}}},
{"data":{"values":[{"p":125.513,"t":"125.513"},{"p":125.269,"t":"125.269"}]},"mark":{"type":"text","fontSize":4.2,"align":"left","color":"#fff"},"encoding":{"x":{"datum":231.5,"type":"quantitative","axis":null},"y":{"field":"p","type":"quantitative","title":null},"text":{"field":"t"}}}
]
},
{
"width":605,"height":46,
"layer":[
{"data":{"values":[{}]},"mark":{"type":"rule","color":"#9a9a9a","strokeWidth":1},"encoding":{"y":{"datum":0,"type":"quantitative","scale":{"domain":[-0.14,0.366],"nice":false,"zero":false},"axis":null}}},
{"data":{"name":"bars"},"transform":[{"window":[{"op":"lag","field":"ao","as":"pv"}],"sort":[{"field":"i"}]}],"mark":{"type":"rule","strokeWidth":1.2},"encoding":{"x":{"field":"i","type":"quantitative","scale":{"domain":[-1,231],"nice":false,"zero":false},"axis":null},"y":{"field":"ao","type":"quantitative","axis":null},"y2":{"datum":0},"color":{"condition":{"test":"datum.pv == null || datum.ao >= datum.pv","value":"#119a11"},"value":"#ff2a2a"}}},
{"data":{"name":"bars"},"mark":{"type":"line","color":"#000","strokeWidth":1},"encoding":{"x":{"field":"i","type":"quantitative","axis":null},"y":{"field":"ma","type":"quantitative","axis":null}}},
{"data":{"values":[{"t":"AO 0.00688  MA(AO,5) 0.10051"}]},"mark":{"type":"bar","orient":"horizontal","size":5,"color":"#0f7a0f"},"encoding":{"x":{"datum":-0.2,"type":"quantitative","axis":null},"x2":{"datum":22.5},"y":{"datum":0.31,"type":"quantitative","axis":null}}},
{"data":{"values":[{"t":"AO 0.00688  MA(AO,5) 0.10051"}]},"mark":{"type":"text","fontSize":4.2,"align":"left","color":"#d8f0d8"},"encoding":{"x":{"datum":0.2,"type":"quantitative","axis":null},"y":{"datum":0.31,"type":"quantitative","axis":null},"text":{"field":"t"}}},
{"data":{"name":"aolab"},"mark":{"type":"bar","orient":"horizontal","size":4.5,"color":"#0f7a0f"},"encoding":{"x":{"datum":231.4,"type":"quantitative","axis":null},"x2":{"datum":237.4},"y":{"field":"v","type":"quantitative","axis":null}}},
{"data":{"name":"aolab"},"mark":{"type":"text","fontSize":4.2,"align":"left","color":"#e0ffe0"},"encoding":{"x":{"datum":231.6,"type":"quantitative","axis":null},"y":{"field":"v","type":"quantitative","axis":null},"text":{"field":"t"}}}
]
},
{
"width":605,"height":44,
"layer":[
{"data":{"values":[{}]},"mark":{"type":"rule","color":"#9a9a9a","strokeWidth":1},"encoding":{"y":{"datum":0,"type":"quantitative","scale":{"domain":[-0.275,0.209],"nice":false,"zero":false},"axis":null}}},
{"data":{"name":"bars"},"transform":[{"window":[{"op":"lag","field":"ac","as":"pv"}],"sort":[{"field":"i"}]}],"mark":{"type":"rule","strokeWidth":1.2},"encoding":{"x":{"field":"i","type":"quantitative","scale":{"domain":[-1,231],"nice":false,"zero":false},"axis":{"values":[0,12,24,36,48,60,72,84,96,108,120,132,144,156,168,180],"labelExpr":"['12 May 2017','15 May 01:30','15 May 04:30','15 May 07:30','15 May 10:30','15 May 13:30','15 May 16:30','15 May 19:30','15 May 22:30','16 May 01:30','16 May 04:30','16 May 07:30','16 May 10:30','16 May 13:30','16 May 16:30','16 May 19:30'][round(datum.value/12)]","labelAlign":"left","labelFontSize":4.4,"labelColor":"#000","labelPadding":0,"labelOverlap":false,"labelFlush":false,"tickSize":2,"tickColor":"#000","domain":false,"grid":false,"title":null,"minExtent":0}},"y":{"field":"ac","type":"quantitative","axis":null},"y2":{"datum":0},"color":{"condition":{"test":"datum.pv == null || datum.ac >= datum.pv","value":"#119a11"},"value":"#ff2a2a"}}},
{"data":{"values":[{"t":"AC 0.09926"}]},"mark":{"type":"bar","orient":"horizontal","size":5,"color":"#0f7a0f"},"encoding":{"x":{"datum":-0.2,"type":"quantitative","title":null},"x2":{"datum":9.5},"y":{"datum":0.175,"type":"quantitative","axis":null}}},
{"data":{"values":[{"t":"AC 0.09926"}]},"mark":{"type":"text","fontSize":4.2,"align":"left","color":"#d8f0d8"},"encoding":{"x":{"datum":0.2,"type":"quantitative","title":null},"y":{"datum":0.175,"type":"quantitative","axis":null},"text":{"field":"t"}}},
{"data":{"name":"aclab"},"mark":{"type":"bar","orient":"horizontal","size":4.5,"color":"#0f7a0f"},"encoding":{"x":{"datum":231.4,"type":"quantitative","title":null},"x2":{"datum":237.4},"y":{"field":"v","type":"quantitative","axis":null}}},
{"data":{"name":"aclab"},"mark":{"type":"text","fontSize":4.2,"align":"left","color":"#e0ffe0"},"encoding":{"x":{"datum":231.6,"type":"quantitative","title":null},"y":{"field":"v","type":"quantitative","axis":null},"text":{"field":"t"}}}
]
}
]
}
